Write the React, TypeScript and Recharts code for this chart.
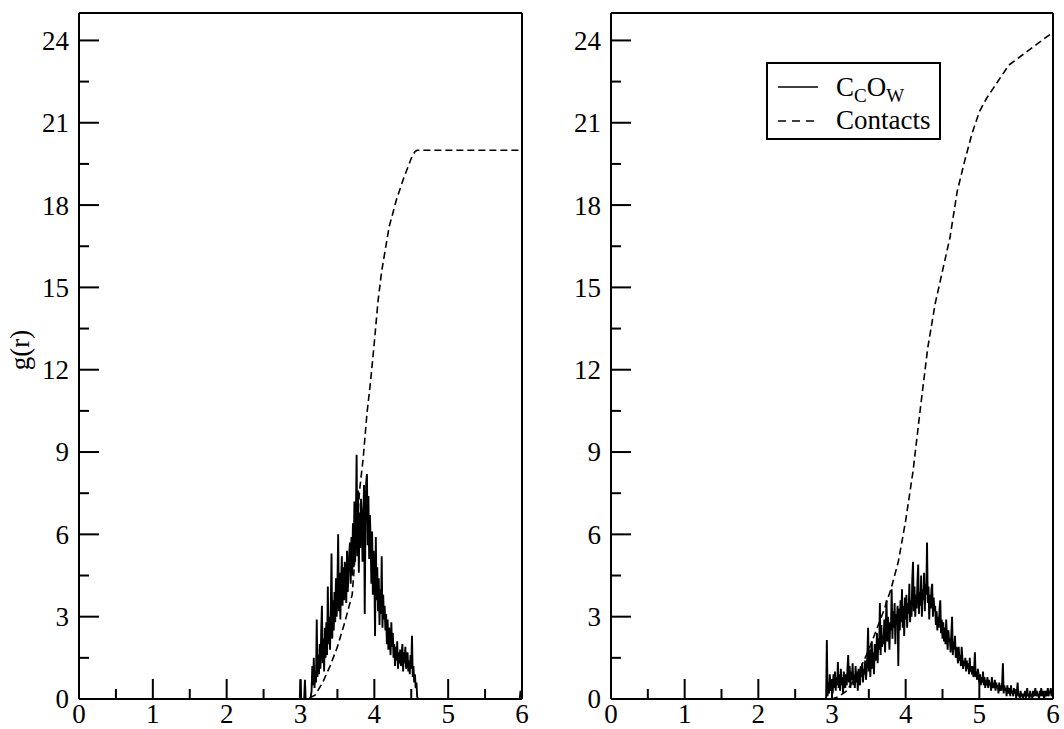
import React from 'react';
import { LineChart, Line, XAxis, YAxis } from 'recharts';

// r grid (nm-ish units) for the sampled g(r) traces
const R_STEP = 0.01;
const LEFT_G_START = 2.95;
const RIGHT_G_START = 2.9;

// left panel, C_C O_W g(r), sampled from r = 2.95
const leftG = [
  0, 0, 0, 0, 0, 0.7, 0, 0, 0, 0, 0, 0.7, 0, 0, 0, 0, 0, 0, 0, 0.1,
  0.3, 1.2, 0.5, 1.5, 0.4, 1.0, 0.6, 2.9, 0.8, 1.6,
  0.9, 2.0, 1.1, 2.4, 3.4, 1.3, 2.2, 1.0, 2.6, 1.5,
  2.8, 1.6, 4.1, 2.0, 3.0, 1.8, 3.3, 5.3, 2.2, 3.6,
  2.5, 3.9, 2.8, 4.4, 3.0, 4.1, 6.0, 3.2, 4.6, 2.9,
  4.3, 5.2, 3.4, 4.8, 3.6, 5.0, 4.1, 3.5, 5.4, 3.9,
  4.6, 5.3, 5.7, 4.2, 5.9, 4.5, 6.4, 4.8, 7.2, 5.0,
  6.5, 8.9, 5.2, 7.6, 4.6, 6.8, 5.5, 7.3, 6.8, 5.0,
  6.2, 7.8, 3.1, 6.5, 7.9, 8.2, 5.6, 7.4, 5.1, 6.7,
  5.8, 4.2, 6.1, 3.8, 5.4, 4.5, 2.3, 5.9, 3.6, 4.8,
  3.2, 4.4, 2.7, 4.0, 3.1, 5.2, 2.6, 3.8, 2.9, 3.4,
  2.5, 3.1, 2.0, 2.9, 1.8, 2.6, 2.2, 1.6, 2.8, 1.9,
  2.4, 1.5, 2.0, 1.2, 1.9, 1.4, 2.1, 1.1, 1.7, 1.3,
  1.8, 1.2, 1.6, 2.0, 1.0, 1.7, 1.3, 1.9, 1.1, 1.5,
  1.7, 1.0, 1.4, 0.9, 1.6, 1.1, 2.3, 0.8, 1.2, 0.6,
  0.9, 0.4, 0.6, 0.1, 0,
];
const leftTailR = [5.97, 5.98, 5.99, 6.0];
const leftTailG = [0, 0.3, 0.1, 0.2];

// right panel, C_C O_W g(r), sampled from r = 2.90
const rightG = [
  0, 0, 0, 2.15, 0.1, 0.6, 0.2, 0.9, 0.4, 0.3,
  0.7, 0.2, 0.9, 0.4, 1.0, 0.3, 0.8, 0.5, 1.35, 0.4,
  0.9, 0.3, 1.1, 0.5, 0.8, 0.2, 1.0, 0.6, 0.4, 0.9,
  0.5, 1.1, 1.6, 0.6, 1.2, 0.4, 1.0, 0.7, 1.3, 0.5,
  0.9, 0.4, 1.2, 0.6, 1.0, 0.3, 1.1, 0.7, 0.5, 1.2,
  0.8, 1.3, 0.6, 1.1, 0.9, 1.4, 0.7, 1.0, 1.6, 2.6,
  1.0, 1.8, 0.8, 1.5, 2.1, 1.1, 1.7, 0.9, 2.0, 1.4,
  1.5, 2.4, 1.3, 2.2, 1.8, 3.5, 1.6, 2.7, 1.9, 2.3,
  2.0, 2.9, 1.7, 2.6, 3.6, 2.1, 3.0, 2.4, 1.8, 2.8,
  2.5, 4.0, 2.2, 3.2, 2.6, 3.5, 2.0, 3.1, 2.8, 3.4,
  1.2, 3.3, 2.5, 3.6, 2.8, 4.0, 2.6, 3.4, 2.3, 3.7,
  2.9, 3.8, 2.6, 3.5, 3.1, 4.2, 2.8, 3.6, 3.0, 4.4,
  5.0, 3.2, 4.1, 3.0, 3.8, 3.3, 4.3, 4.9, 3.1, 3.9,
  3.4, 4.5, 3.0, 4.0, 3.6, 4.6, 3.2, 4.2, 3.8, 5.7,
  3.5, 4.1, 2.9, 3.8, 3.3, 4.0, 4.2, 3.0, 3.7, 3.2,
  3.4, 2.7, 3.2, 2.5, 3.0, 2.6, 3.3, 3.6, 2.4, 2.9,
  2.2, 2.8, 2.1, 2.6, 2.0, 2.9, 2.3, 1.8, 2.5, 2.1,
  2.2, 1.7, 2.4, 3.0, 1.6, 2.1, 1.8, 2.3, 1.5, 1.9,
  1.7, 1.3, 1.9, 1.4, 1.6, 1.2, 1.9, 1.5, 1.1, 1.4,
  1.2, 1.5, 1.0, 1.4, 1.1, 1.3, 0.9, 1.5, 1.0, 1.2,
  0.9, 1.2, 0.8, 1.1, 1.7, 0.8, 1.0, 0.7, 1.1, 0.9,
  0.6, 0.9, 0.5, 0.8, 0.6, 1.0, 0.5, 0.8, 0.4, 0.7,
  0.5, 0.8, 0.4, 0.7, 0.5, 0.6, 0.3, 0.8, 0.4, 0.6,
  0.4, 0.7, 0.3, 0.6, 0.4, 0.5, 0.2, 0.6, 0.3, 0.5,
  0.3, 0.6, 1.3, 0.2, 0.5, 0.3, 0.4, 0.1, 0.5, 0.3,
  0.2, 0.4, 0.1, 0.5, 0.2, 0.3, 0.1, 0.4, 0.2, 0.3,
  0.1, 0.3, 0.6, 0.1, 0.2, 0.0, 0.3, 0.1, 0.2, 0.0,
  0.2, 0.1, 0.3, 0.0, 0.2, 0.4, 0.1, 0.2, 0.0, 0.3,
  0.1, 0.2, 0.0, 0.3, 0.1, 0.2, 0.4, 0.1, 0.3, 0.1,
  0.2, 0.0, 0.3, 0.1, 0.4, 0.2, 0.1, 0.3, 0.0, 0.2,
  0.3, 0.1, 0.2, 0.4, 0.1, 0.3, 0.2, 0.4, 0.1, 0.3, 0.2,
];

// cumulative contacts
const contactsLeftR = [0, 3.1, 3.2, 3.3, 3.4, 3.5, 3.6, 3.7, 3.75, 3.8, 3.85, 3.9, 3.95, 4.0, 4.05, 4.1, 4.15, 4.2, 4.3, 4.4, 4.5, 4.55, 4.58, 6.0];
const contactsLeftN = [0, 0, 0.15, 0.6, 1.2, 1.9, 2.8, 3.8, 5.6, 7.6, 8.8, 10.4, 11.6, 13.0, 14.5, 15.6, 16.4, 17.2, 18.2, 19.0, 19.7, 19.95, 20.0, 20.0];

const contactsRightR = [0, 3.0, 3.1, 3.2, 3.3, 3.4, 3.5, 3.6, 3.7, 3.8, 3.9, 4.0, 4.1, 4.2, 4.3, 4.4, 4.5, 4.6, 4.7, 4.8, 4.9, 5.0, 5.1, 5.2, 5.3, 5.4, 5.5, 5.6, 5.7, 5.8, 5.9, 6.0];
const contactsRightN = [0, 0, 0.1, 0.3, 0.7, 1.2, 1.8, 2.5, 3.2, 4.0, 5.0, 6.5, 8.3, 10.6, 12.8, 14.4, 15.6, 16.8, 18.5, 19.6, 20.6, 21.4, 21.9, 22.3, 22.7, 23.1, 23.3, 23.5, 23.7, 23.9, 24.1, 24.3];

const xTicks = [0, 0.5, 1, 1.5, 2, 2.5, 3, 3.5, 4, 4.5, 5, 5.5, 6];
const yTicks = [0, 1.5, 3, 4.5, 6, 7.5, 9, 10.5, 12, 13.5, 15, 16.5, 18, 19.5, 21, 22.5, 24];

const FONT = '"Liberation Serif", "DejaVu Serif", serif';

const sampled = (start: number, vals: number[]) =>
  vals.map((g, i) => ({ r: Math.round((start + i * R_STEP) * 100) / 100, v: g }));
const pairs = (rs: number[], vs: number[]) => rs.map((r, i) => ({ r, v: vs[i] }));

const isMajor = (v: number, every: number) => Math.abs(v / every - Math.round(v / every)) < 1e-6;

const BottomTick = (props: any) => {
  const { x, y, payload } = props;
  const major = isMajor(payload.value, 1);
  return (
    <g>
      <line x1={x} y1={y} x2={x} y2={y - (major ? 20 : 10)} stroke="#000" strokeWidth={2} />
      {major && (
        <text x={x} y={y + 24} textAnchor="middle" fontSize={27} fontFamily={FONT} fill="#000">
          {payload.value}
        </text>
      )}
    </g>
  );
};

const LeftTick = (props: any) => {
  const { x, y, payload } = props;
  const major = isMajor(payload.value, 3);
  return (
    <g>
      <line x1={x} y1={y} x2={x + (major ? 20 : 10)} y2={y} stroke="#000" strokeWidth={2} />
      {major && (
        <text x={x - 10} y={y} dy="0.35em" textAnchor="end" fontSize={27} fontFamily={FONT} fill="#000">
          {payload.value}
        </text>
      )}
    </g>
  );
};

const RightTick = (props: any) => {
  const { x, y, payload } = props;
  const major = isMajor(payload.value, 3);
  return <line x1={x} y1={y} x2={x - (major ? 20 : 10)} y2={y} stroke="#000" strokeWidth={2} />;
};

const axisLine = { stroke: '#000', strokeWidth: 2 };

const Panel = ({ g, contacts, width, margin, showYLabel }: any) => (
  <LineChart width={width} height={729} margin={margin}>
    <XAxis
      dataKey="r"
      type="number"
      domain={[0, 6]}
      ticks={xTicks}
      interval={0}
      height={1}
      tickSize={0}
      tickMargin={0}
      tickLine={false}
      axisLine={axisLine}
      tick={<BottomTick />}
    />
    <XAxis xAxisId="top" dataKey="r" type="number" domain={[0, 6]} orientation="top" height={1} tick={false} tickLine={false} axisLine={axisLine} />
    <YAxis
      type="number"
      domain={[0, 25]}
      ticks={yTicks}
      interval={0}
      width={1}
      tickSize={0}
      tickMargin={0}
      tickLine={false}
      axisLine={axisLine}
      tick={<LeftTick />}
      label={
        showYLabel
          ? {
              content: ({ viewBox }: any) => {
                const cx = viewBox.x - 58;
                const cy = viewBox.y + viewBox.height / 2 - 6;
                return (
                  <text x={cx} y={cy} transform={`rotate(-90 ${cx} ${cy})`} textAnchor="middle" dy="0.35em" fontSize={27} fontFamily={FONT} fill="#000">
                    g(r)
                  </text>
                );
              },
            }
          : undefined
      }
    />
    <YAxis
      yAxisId="right"
      orientation="right"
      type="number"
      domain={[0, 25]}
      ticks={yTicks}
      interval={0}
      width={1}
      tickSize={0}
      tickMargin={0}
      tickLine={false}
      axisLine={axisLine}
      tick={<RightTick />}
    />
    <Line data={contacts} dataKey="v" type="linear" stroke="#000" strokeWidth={1.6} strokeDasharray="7 4" dot={false} isAnimationActive={false} />
    <Line data={g} dataKey="v" type="linear" stroke="#000" strokeWidth={1.9} dot={false} isAnimationActive={false} />
  </LineChart>
);

const subStyle: React.CSSProperties = { fontSize: 19, verticalAlign: '-6px', lineHeight: 0 };

const Legend = () => (
  <div
    style={{
      position: 'absolute',
      left: 766,
      top: 62,
      width: 171,
      height: 74,
      border: '2px solid #000',
      background: '#fff',
      fontFamily: FONT,
      fontSize: 27,
      color: '#000',
    }}
  >
    <svg width={40} height={4} style={{ position: 'absolute', left: 10, top: 21, display: 'block' }}>
      <line x1={0} y1={2} x2={40} y2={2} stroke="#000" strokeWidth={1.6} />
    </svg>
    <div style={{ position: 'absolute', left: 68, top: 6, lineHeight: '34px', whiteSpace: 'nowrap' }}>
      C<sub style={subStyle}>C</sub>O<sub style={subStyle}>W</sub>
    </div>
    <svg width={40} height={4} style={{ position: 'absolute', left: 10, top: 55, display: 'block' }}>
      <line x1={0} y1={2} x2={40} y2={2} stroke="#000" strokeWidth={1.6} strokeDasharray="8 6" />
    </svg>
    <div style={{ position: 'absolute', left: 68, top: 39, lineHeight: '34px', whiteSpace: 'nowrap' }}>Contacts</div>
  </div>
);

export default function App() {
  const leftData = [{ r: 0, v: 0 }, ...sampled(LEFT_G_START, leftG), ...pairs(leftTailR, leftTailG)];
  const rightData = [{ r: 0, v: 0 }, ...sampled(RIGHT_G_START, rightG)];
  return (
    <div style={{ position: 'absolute', left: 0, top: 0, width: 1064, height: 729, background: '#fff' }}>
      <div style={{ position: 'absolute', left: 0, top: 0 }}>
        <Panel g={leftData} contacts={pairs(contactsLeftR, contactsLeftN)} width={540} margin={{ top: 12, right: 17, bottom: 29, left: 78 }} showYLabel />
      </div>
      <div style={{ position: 'absolute', left: 540, top: 0 }}>
        <Panel g={rightData} contacts={pairs(contactsRightR, contactsRightN)} width={524} margin={{ top: 12, right: 10, bottom: 29, left: 70 }} />
      </div>
      <Legend />
    </div>
  );
}
